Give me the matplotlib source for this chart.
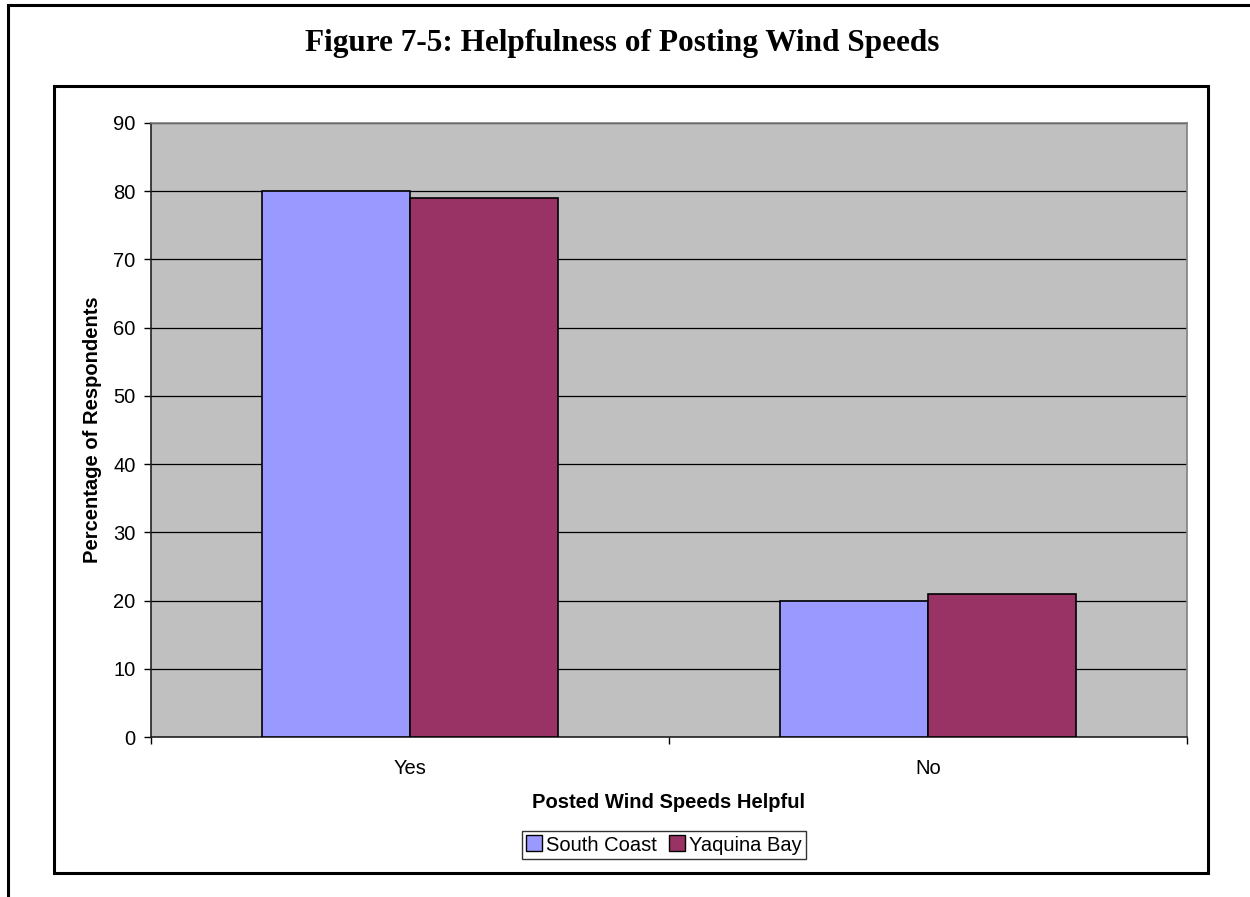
import matplotlib.pyplot as plt
import numpy as np
from matplotlib.patches import Rectangle
from matplotlib.lines import Line2D

# survey answers, percent of respondents
categories = ['Yes', 'No']
south_coast = [80, 20]
yaquina_bay = [79, 21]
series_names = ['South Coast', 'Yaquina Bay']
series_colors = ['#9999FF', '#993366']

W, H = 1250, 897
FS = 14.5
fig = plt.figure(figsize=(W / 100, H / 100), dpi=100)


def px_rect(x0, y0, x1, y1, lw):
    # rectangle given in pixel coords (origin top-left)
    r = Rectangle((x0 / W, 1 - y1 / H), (x1 - x0) / W, (y1 - y0) / H,
                  transform=fig.transFigure, fill=False, edgecolor='black',
                  linewidth=lw, zorder=0)
    fig.add_artist(r)


# outer page frame and chart frame
px_rect(8, 5, 1300, 950, 2.2)
px_rect(54, 86, 1208, 873, 2.2)

fig.text(622 / W, 1 - 44 / H, 'Figure 7-5: Helpfulness of Posting Wind Speeds',
         ha='center', va='center', fontsize=22.5, fontweight='bold',
         family='Liberation Serif')

ax = fig.add_axes([151 / W, 1 - 737 / H, 1036 / W, 614 / H])
ax.set_facecolor('#C0C0C0')

x = np.arange(len(categories))
w = 1 / 3.5
ax.bar(x - w / 2, south_coast, w, color=series_colors[0], edgecolor='black',
       linewidth=1.2, zorder=3)
ax.bar(x + w / 2, yaquina_bay, w, color=series_colors[1], edgecolor='black',
       linewidth=1.2, zorder=3)

ax.set_xlim(-0.5, 1.5)
ax.set_ylim(0, 90)
ax.set_yticks(range(0, 91, 10))
ax.yaxis.grid(True, color='black', linewidth=0.9, zorder=1)
ax.set_axisbelow(True)

# category boundaries get tick marks, labels sit on minor ticks
ax.set_xticks([-0.5, 0.5, 1.5])
ax.set_xticklabels([])
ax.set_xticks(x, minor=True)
ax.set_xticklabels(categories, minor=True)
ax.tick_params(axis='x', which='minor', length=0, pad=16)
ax.tick_params(axis='x', which='major', length=5, width=1, direction='out')
ax.tick_params(axis='y', length=5, width=1, direction='out', pad=6)

for lab in ax.get_xticklabels(minor=True) + ax.get_yticklabels():
    lab.set_family('Liberation Sans')
    lab.set_fontsize(FS)

for side in ['top', 'right']:
    ax.spines[side].set_color('#808080')
    ax.spines[side].set_linewidth(1.2)
for side in ['left', 'bottom']:
    ax.spines[side].set_color('#222222')
    ax.spines[side].set_linewidth(1.2)

ax.set_ylabel('Percentage of Respondents', fontsize=FS, fontweight='bold',
              family='Liberation Sans')
ax.yaxis.set_label_coords((102 - 151) / 1036, 0.5)
ax.set_xlabel('Posted Wind Speeds Helpful', fontsize=FS, fontweight='bold',
              family='Liberation Sans')
ax.xaxis.set_label_coords(0.5, -(793 - 737) / 614)

handles = [Line2D([], [], linestyle='none', marker='s', markersize=12,
                  markerfacecolor=c, markeredgecolor='black', markeredgewidth=1)
           for c in series_colors]
leg = fig.legend(handles, series_names, loc='center',
                 bbox_to_anchor=(664 / W, 1 - 845 / H), ncol=2,
                 prop={'family': 'Liberation Sans', 'size': FS},
                 frameon=True, fancybox=False, handlelength=0.8,
                 handletextpad=0.2, columnspacing=0.6, borderpad=0.2)
leg.get_frame().set_edgecolor('black')
leg.get_frame().set_linewidth(1)

fig.savefig('out.png', dpi=100)
